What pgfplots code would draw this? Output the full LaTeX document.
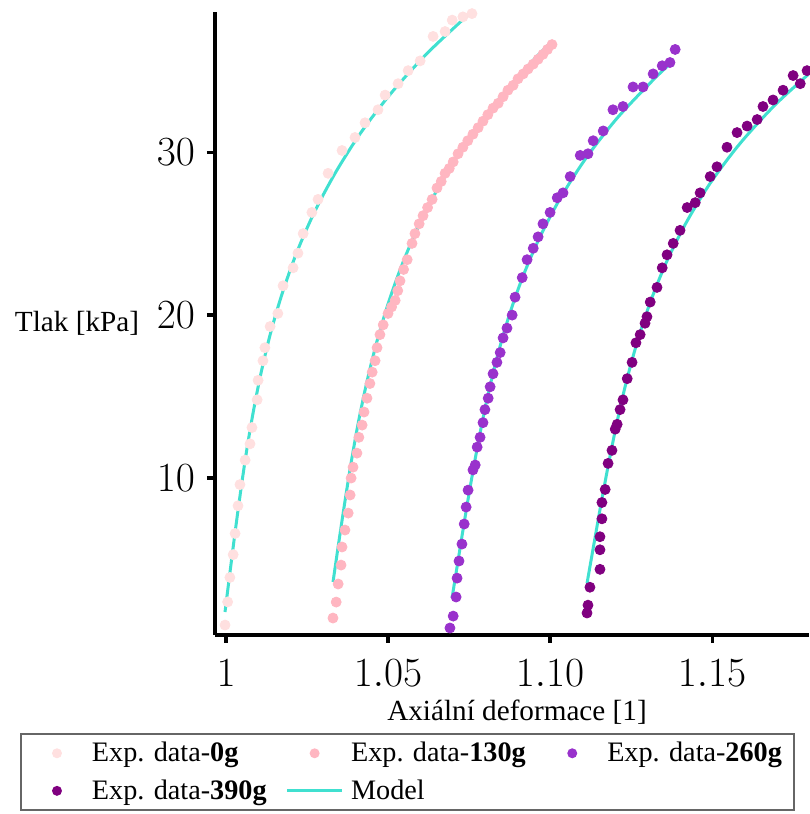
\documentclass[border=0pt]{standalone}
\usepackage{fontspec}
\setmainfont{Liberation Serif}
\usepackage{pgfplots}
\pgfplotsset{compat=1.18}
\definecolor{c0}{HTML}{FFE0E0}
\definecolor{c130}{HTML}{FFB6C1}
\definecolor{c260}{HTML}{9932CC}
\definecolor{c390}{HTML}{800080}
\definecolor{cmod}{HTML}{40E0D0}
\pgfplotsset{
  dotleg/.style={legend image code/.code={\path[draw=none] (0pt,0pt) -- (27.5pt,0pt); \path[draw=none, fill=#1] (13.75pt,0pt) circle (2.5pt);}},
  lineleg/.style={legend image code/.code={\path[draw=#1, line width=1.5pt] (0pt,0pt) -- (27.5pt,0pt);}},
}
\begin{document}
\begin{tikzpicture}
\useasboundingbox (0,0) rectangle (404.5pt,407pt);
\begin{axis}[
  at={(107.5pt,89.5pt)}, anchor=south west,
  scale only axis, width=297pt, height=311.5pt,
  xmin=0.9966, xmax=1.1799, ymin=0.37, ymax=38.6,
  axis x line*=bottom, axis y line*=left,
  axis line style={line width=1.6pt, black},
  tick align=outside, major tick length=4pt,
  tick style={line width=1.6pt, black},
  xtick={1,1.05,1.1,1.15}, xticklabels={$1$,$1.05$,$1.10$,$1.15$},
  ytick={10,20,30},
  minor tick num=0,
  tick label style={font=\fontsize{19.5}{22}\selectfont},
  xticklabel style={yshift=-5pt},
  yticklabel style={xshift=-2.5pt},
  legend columns=3,
  legend cell align=left,
  legend style={at={(axis description cs:-0.3283,-0.1573)}, anchor=north west,
    draw=black!60, line width=1pt, font=\fontsize{14.1}{18}\selectfont,
    inner xsep=4.25pt, inner ysep=2pt, row sep=3.5pt,
    /tikz/every odd column/.append style={column sep=1.75pt},
    /tikz/every even column/.append style={column sep=7.5pt}},
]
\addplot[only marks, mark=*, mark size=2.5pt, color=c0, dotleg={c0}] coordinates {
(0.9997,0.98) (1.0005,2.4) (1.0012,3.9) (1.0022,5.3) (1.0028,6.6) (1.0037,8.3) (1.0043,9.6)
(1.0059,11.1) (1.0074,12.1) (1.0080,13.1) (1.0096,14.8) (1.0099,16.0) (1.0114,17.2) (1.0120,18.0)
(1.0136,19.3) (1.0160,20.1) (1.0176,21.8) (1.0207,22.9) (1.0222,23.8) (1.0238,25.0) (1.0265,26.3)
(1.0284,27.1) (1.0315,28.7) (1.0358,30.1) (1.0398,30.9) (1.0429,31.8) (1.0469,32.6) (1.0491,33.5)
(1.0531,34.2) (1.0562,35.0) (1.0599,35.6) (1.0639,37.1) (1.0676,37.4) (1.0698,38.1) (1.0731,38.3) (1.0759,38.5)
};
\addlegendentry{Exp. data-\textbf{0g}}
\addplot[only marks, mark=*, mark size=2.5pt, color=c130, dotleg={c130}] coordinates {
(1.0330,1.41) (1.0340,2.39) (1.0346,3.50) (1.0355,4.66) (1.0358,5.77) (1.0367,6.81) (1.0377,7.85)
(1.0383,8.96) (1.0386,10.0) (1.0392,10.67) (1.0404,11.53) (1.0410,12.5) (1.0420,13.25) (1.0426,14.05)
(1.0435,14.9) (1.0444,15.8) (1.0451,16.5) (1.0460,17.2) (1.0466,18.0) (1.0475,18.8) (1.0485,19.4)
(1.0500,20.1) (1.0511,20.5) (1.0522,20.9) (1.0530,21.5) (1.0537,22.1) (1.0548,22.8) (1.0559,23.4) (1.0574,24.4)
(1.0583,25.0) (1.0596,25.6) (1.0608,26.1) (1.0622,26.6) (1.0636,27.1) (1.0651,27.8) (1.0664,28.2) (1.0676,28.7)
(1.0689,29.0) (1.0701,29.4) (1.0716,29.9) (1.0731,30.3) (1.0746,30.7) (1.0762,31.1) (1.0778,31.5) (1.0793,31.9)
(1.0808,32.3) (1.0824,32.7) (1.0840,33.0) (1.0855,33.4) (1.0870,33.8) (1.0886,34.1) (1.0901,34.5) (1.0917,34.8)
(1.0932,35.1) (1.0948,35.4) (1.0963,35.7) (1.0978,36.0) (1.0992,36.3) (1.1006,36.6)
};
\addlegendentry{Exp. data-\textbf{130g}}
\addplot[only marks, mark=*, mark size=2.5pt, color=c260, dotleg={c260}] coordinates {
(1.0691,0.80) (1.0701,1.53) (1.0710,2.70) (1.0713,3.86) (1.0719,4.91) (1.0728,5.95) (1.0735,7.18)
(1.0741,8.22) (1.0747,9.26) (1.0762,10.5) (1.0769,10.8) (1.0775,11.9) (1.0784,12.5) (1.0793,13.4)
(1.0799,14.2) (1.0809,14.9) (1.0815,15.6) (1.0824,16.4) (1.0836,17.1) (1.0846,17.7) (1.0855,18.6)
(1.0867,19.2) (1.0883,20.0) (1.0892,21.1) (1.0914,22.3) (1.0929,23.4) (1.0948,24.1) (1.0963,24.8)
(1.0978,25.6) (1.1000,26.3) (1.1022,27.2) (1.1040,27.5) (1.1062,28.5) (1.1093,29.8) (1.1117,29.9)
(1.1133,30.7) (1.1164,31.3) (1.1194,32.6) (1.1225,32.8) (1.1256,34.0) (1.1287,34.0) (1.1318,34.8)
(1.1346,35.3) (1.1370,35.5) (1.1386,36.3)
};
\addlegendentry{Exp. data-\textbf{260g}}
\addplot[only marks, mark=*, mark size=2.5pt, color=c390, dotleg={c390}] coordinates {
(1.1114,1.72) (1.1117,2.2) (1.1123,3.3) (1.1154,4.4) (1.1154,5.6) (1.1154,6.4) (1.1160,7.5)
(1.1160,8.5) (1.1170,9.3) (1.1179,10.9) (1.1191,11.7) (1.1201,13.0) (1.1207,13.3) (1.1216,14.2)
(1.1225,14.8) (1.1238,16.1) (1.1253,17.1) (1.1265,18.3) (1.1278,18.8) (1.1293,19.5) (1.1299,19.9)
(1.1309,20.8) (1.1330,21.7) (1.1346,22.9) (1.1361,23.7) (1.1380,24.4) (1.1401,25.2) (1.1423,26.6)
(1.1448,26.9) (1.1463,27.5) (1.1494,28.5) (1.1515,29.1) (1.1546,30.3) (1.1577,31.2) (1.1608,31.6)
(1.1639,32.0) (1.1657,32.8) (1.1688,33.2) (1.1719,33.8) (1.1750,34.7) (1.1772,34.2) (1.1793,35.0) (1.1818,35.6)
};
\addlegendentry{Exp. data-\textbf{390g}}
\addplot[cmod, line width=1.5pt, no marks, smooth, lineleg={cmod}] coordinates {
(0.99969,1.78) (1.00123,4.23) (1.00281,6.69) (1.00448,9.14) (1.00630,11.60) (1.00840,14.05)
(1.01086,16.50) (1.01383,18.96) (1.01747,21.41) (1.02188,23.87) (1.02728,26.32) (1.03386,28.77)
(1.04173,31.23) (1.05120,33.68) (1.06241,36.13) (1.07531,38.53)
};
\addlegendentry{Model}
\addplot[cmod, line width=1.5pt, no marks, smooth, forget plot] coordinates {
(1.03302,3.62) (1.03481,6.07) (1.03667,8.53) (1.03864,10.98) (1.04086,13.44) (1.04346,15.89)
(1.04651,18.34) (1.05019,20.80) (1.05463,23.25) (1.06000,25.71) (1.06648,28.16) (1.07423,30.61)
(1.08340,33.07) (1.09423,35.52) (1.10062,36.81)
};
\addplot[cmod, line width=1.5pt, no marks, smooth, forget plot] coordinates {
(1.06975,2.64) (1.07173,5.09) (1.07373,7.55) (1.07583,10.00) (1.07809,12.45) (1.08062,14.91)
(1.08358,17.36) (1.08713,19.82) (1.09142,22.27) (1.09670,24.72) (1.10318,27.18) (1.11108,29.63)
(1.12071,32.09) (1.13235,34.54) (1.13765,35.52)
};
\addplot[cmod, line width=1.5pt, no marks, smooth, forget plot] coordinates {
(1.11142,3.56) (1.11358,6.01) (1.11577,8.47) (1.11809,10.92) (1.12059,13.37) (1.12343,15.83)
(1.12679,18.28) (1.13083,20.74) (1.13577,23.19) (1.14191,25.64) (1.14944,28.10) (1.15870,30.55)
(1.17000,33.01) (1.18364,35.46)
};
\end{axis}
\node[font=\fontsize{14.6}{18}\selectfont] at (38.5pt,245.5pt) {Tlak [kPa]};
\node[font=\fontsize{14.6}{18}\selectfont] at (258.5pt,51pt) {Axiální deformace [1]};
\end{tikzpicture}
\end{document}
